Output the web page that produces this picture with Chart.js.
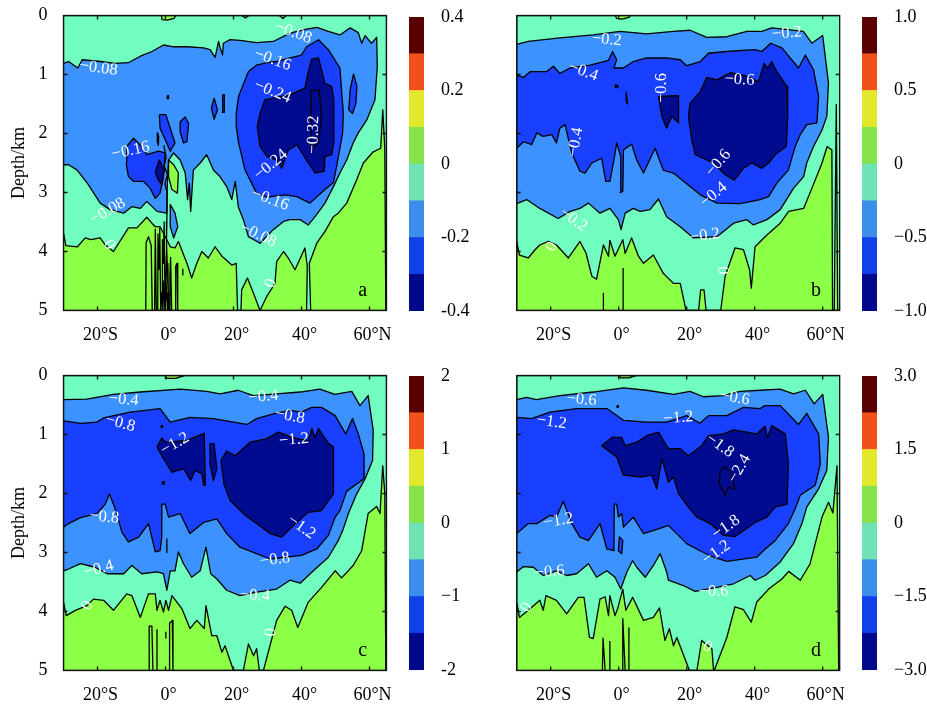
<!DOCTYPE html>
<html><head><meta charset="utf-8">
<style>
html,body{margin:0;padding:0;background:#fff;width:927px;height:704px;overflow:hidden}
canvas{position:absolute;filter:blur(0.35px)}
</style>
<script src="https://cdn.jsdelivr.net/npm/chart.js@4/dist/chart.umd.min.js"></script>
</head><body>
<script>
const lonTicks=[-20,0,20,40,60];
const lonLabels=['20°S','0°','20°','40°','60°N'];
const depthTicks=[0,1,2,3,4,5];
const cbEdgesA=[-0.4,-0.3,-0.2,-0.1,0,0.1,0.2,0.3,0.4];
const cbTicksA=[-0.4,-0.2,0,0.2,0.4];
const cbLabelsA=['-0.4','-0.2','0','0.2','0.4'];
const cbEdgesB=[-1,-0.75,-0.5,-0.25,0,0.25,0.5,0.75,1];
const cbTicksB=[-1,-0.5,0,0.5,1];
const cbLabelsB=['−1.0','−0.5','0','0.5','1.0'];
const cbEdgesC=[-2,-1.5,-1,-0.5,0,0.5,1,1.5,2];
const cbTicksC=[-2,-1,0,1,2];
const cbLabelsC=['-2','−1','0','1','2'];
const cbEdgesD=[-3,-2.25,-1.5,-0.75,0,0.75,1.5,2.25,3];
const cbTicksD=[-3,-1.5,0,1.5,3];
const cbLabelsD=['−3.0','−1.5','0','1.5','3.0'];
const cbColors=['#00088c','#1040e8','#3d8deb','#6fe3b5','#86e24a','#e4e82c','#f0501a','#5a0000'];
const TEAL='#70fdbf',GREEN='#8cff47',LIGHT='#3c92ff',BLUE='#1a40ff',NAVY='#000b8f';
const wholeDomain=[-30,0,65,0,65,5,-30,5];

// Panel a
const aLight=[-30,.81,-28.5,.78,-25.8,.89,-24.5,.75,-19.1,.78,-14.8,.81,-10.9,.8,-7.4,.69,-4,.61,-.6,.5,2.4,.53,6.3,.53,11.2,.55,13.1,.58,14.6,.71,15.6,.44,16.1,.55,16.8,.67,17,.47,19,.41,21.9,.42,26.8,.46,31.7,.44,36.6,.3,41.5,.23,44.5,.2,47.9,.27,51.3,.33,54.3,.21,56.7,.29,57.7,.47,58.7,.34,60.6,.47,62.1,.37,62.3,.86,61.6,1.43,59.2,1.77,56.7,1.99,55.2,2.16,53.3,2.45,51.3,2.67,49.4,2.9,46.9,3.18,44,3.41,42,3.55,39.6,3.46,36.6,3.46,34.7,3.49,31.7,3.63,27.8,3.86,24.4,3.75,22.9,3.46,21.4,3.24,20.5,2.81,19.5,3.12,18,2.9,16,2.73,14.1,2.62,12.1,2.36,10.2,2.5,8.2,2.62,7.4,3.32,7,2.84,6.5,3.12,5.8,2.67,4.3,2.45,2.4,2.33,.9,2.45,.5,2.9,.4,3.35,-2.5,3.32,-5.5,3.15,-7.4,3.27,-9.9,3.24,-12.3,3.35,-16.3,3.29,-19.2,3.18,-23,2.84,-26,2.62,-28.5,2.53,-30,2.53];
const aLight2=[1.4,3.2,2.8,3.35,3.6,3.58,2.4,3.77,1.4,3.58];
const aBlue1=[20.8,1.66,21.5,1.37,24.4,.95,26.8,.84,29.8,.8,32.7,.78,36.6,.72,40,.67,41.5,.53,45,.41,47.9,.58,51.3,.89,52.3,1.66,52.1,1.99,50.3,2.56,49.4,2.83,46.9,2.95,42.5,3.18,38.6,3.07,35.2,3.04,29.8,3.08,26.8,3.01,23.4,2.62,21.5,2.16,20.8,1.88];
const aBlue2=[-11.6,2.5,-11.4,2.22,-9.4,2.08,-7,2.22,-5.5,2.36,-2,2.3,-.1,2.33,-.6,2.73,-1.6,3.01,-3,3.1,-4.5,2.93,-6.5,2.81,-9.4,2.81,-10.9,2.73];
const aBlue3=[-1.8,1.68,.1,1.68,1.4,1.91,2.8,2.16,1.4,2.3,-.1,2.1,-1.6,1.91];
const aBlue4=[4.3,1.8,5.8,1.72,6.8,1.83,6.3,2.14,5.3,2.16,4.3,1.97];
const aBlue5=[14.3,1.4,15.3,1.6,14.3,1.76,13.5,1.57];
const aBlue6=[16.8,1.34,17.3,1.34,17.3,1.64,16.7,1.64];
const aBlue7=[55.3,.99,56.3,1.2,56,1.49,55,1.66,53.9,1.6,54.3,1.26];
const aDot1=[.5,1.36,.9,1.36,.9,1.41,.5,1.41];
const aDot2=[-2.4,1.98,-2,2.05,-2.1,2.2,-2.5,2.12];
const aNavy1=[27,1.88,27.8,1.66,29.2,1.43,31.7,1.4,36.6,1.34,41,1.23,42,.95,43,.74,45,.72,46.9,1.15,48.9,1.2,49.5,1.43,49.5,2.16,48.9,2.36,46.9,2.39,46.7,2.64,44,2.67,42,2.5,39.6,2.28,38.6,2.19,36.1,2.28,34.2,2.59,32.7,2.45,29.8,2.39,27.8,2.22];
const aNavy2=[-3,2.64,-1.8,2.45,-.4,2.62,-1.1,2.87,-2.4,2.76];
const aInner=[42.7,1.27,45.2,1.27,45.9,1.66,45,2.16,43,2.25,42.9,1.66];
const aGreen=[-30,3.69,-29.3,3.9,-25.9,3.92,-23.6,3.77,-22,3.8,-19.2,3.77,-17.7,3.89,-15.3,4,-10.9,3.6,-8.4,3.6,-5.5,3.42,-4,3.52,-3,3.58,-1.6,3.58,.4,3.8,1.4,3.92,2.8,3.94,3.8,3.83,6.3,4.2,7.7,4.45,9.2,4.2,10.7,4,12.6,4.11,14.6,3.92,16.6,4.08,19.5,4.23,20.8,4.2,21.2,5,22.2,5,22.4,4.65,24.1,4.45,25.9,4.71,27.8,5,29.8,4.76,32.2,4.54,32.7,4.17,34.7,4,36.1,4.11,38.1,4.31,41,3.94,41.7,4.25,41.5,5,42.7,5,42.3,4.2,44.5,3.86,46.9,3.66,49.4,3.41,50.8,3.35,53.3,3.18,56.2,2.79,58.2,2.5,61.1,2.31,63.3,2.25,63.9,1.6,64.5,2.25,64.8,5,65,5,-30,5];
const aGreen2=[.9,2.45,2.4,2.53,3.8,2.67,3.5,3.01,1.9,2.95,.9,2.73];
const aGreen3=[-1.2,0,-1,.07,.5,.08,2.5,.05,3,0];
const aLine1=[-5.8,5,-5.7,3.85,-5,3.75,-4.2,3.9,-3.9,5];
const aLine2=[-3.2,5,-3,3.62,-2.7,5,-2.3,5,-2.2,3.7,-1.9,4.3,-1.7,3.6,-1.4,5,-1,5,-.9,3.8,-.6,4.2,-.4,3.5,-.1,5,.1,5,.3,4,.5,4.4,.7,4.2,.9,5,1.2,5,1.3,4.4,1.5,4.1,1.8,5];
const aLine3=[2.8,5,3,4.25,3.4,4.2,3.6,5];
const aLine4=[-.5,2.2,.2,2.4,-.4,2.55,.6,2.7,-.2,2.85,.5,3,.4,3.5,.3,3.8,.5,4.5,.1,4.8];
const aLine5=[-1.5,5,-1.2,4.7,-.8,5,-.5,4.5,-.2,5,.3,4.6,.6,5,.8,4.7,1,5];
const aLine6=[5.1,4.3,5.1,4.4];
const aLine7=[22.5,0,23.5,.04,24.5,0];
const aLine8=[33.5,0,34.5,.05,35.5,0];
const aLabels=[['−0.08',37.6,.29,20],['−0.16',31.5,.75,20],['−0.24',31.5,1.29,22],['−0.32',43.5,2.02,-88],['−0.24',31,2.53,-40],['−0.16',30.8,3.12,20],['−0.08',27.3,3.72,25],['0',31,4.54,-70],['−0.08',-19.7,.89,8],['−0.16',-10.2,2.29,-12],['−0.08',-17,3.32,-30],['0',-16.6,3.89,60]];

// Panel b
const bLight=[-30,.49,-26.6,.44,-17.3,.38,-7.5,.33,.4,.27,8.2,.31,16.1,.27,21,.25,25.9,.37,31.8,.36,37.7,.27,42.1,.27,45,.21,54.3,.27,56.8,.47,60,.34,61.7,1.15,61.2,1.71,59.8,1.94,57.3,2.22,55.3,2.5,54.4,2.73,51.4,2.93,47.5,3.29,43.6,3.46,39.6,3.55,37.7,3.46,33.8,3.52,28.9,3.75,22,3.77,18.1,3.58,14.1,3.41,11.7,3.11,9.2,3.29,6.3,3.32,4.3,3.27,1.9,3.35,.7,3.63,-.1,3.46,-2.6,3.27,-5.5,3.35,-8.9,3.18,-11.4,3.27,-14.3,3.32,-17.8,3.44,-23.2,3.27,-27.1,3.12,-30,3.19];
const bBlue=[-30,1.01,-28,1.05,-26,.95,-21.2,.95,-19.2,.86,-17.3,.98,-14.3,.89,-8.4,.84,-3,.76,-1.8,.61,-.6,.75,-1.4,.89,1.4,.89,4.3,.78,8.2,.72,14.1,.72,18.1,.75,20,.85,24,.78,26.4,.64,31.7,.61,40,.58,42.1,.61,44.7,.47,48,.55,52.9,.89,54.9,.67,57.3,.92,58.8,1.37,58.3,1.82,55.3,1.85,53.4,2.02,51.9,2.22,49.9,2.62,46.5,2.84,44.1,3.07,41.6,3.12,35.7,3.19,28.9,3.18,24,3.04,21,2.9,16.1,2.67,13.1,2.62,10.7,2.25,7.3,2.67,5.3,2.45,3.8,2.18,1.4,2.28,1.2,2.98,.4,3,.6,2.39,-.6,2.16,-1.4,2.45,-2.6,2.81,-3.8,2.81,-5,2.42,-7.9,2.5,-9.9,2.67,-11.4,2.64,-13.8,2.33,-15.8,1.85,-17.3,1.91,-18.3,2.16,-19.7,2.02,-22.2,2.05,-24.1,1.99,-25.6,2.19,-28,2.14,-30,2.25];
const bNavy1=[20.5,1.71,21,1.49,24,1.29,25.9,1.05,28.9,1.09,32.8,.97,36.7,1.01,41.1,1.12,42.8,.81,43.8,.89,45,.78,46.5,.95,49.5,1.2,49.7,1.71,49.3,2.22,46,2.36,44.1,2.5,42.1,2.59,39.2,2.5,36.7,2.59,34,2.79,31.3,2.7,27.9,2.5,22.5,2.36,21.5,2.11];
const bNavy2=[11.7,1.37,17.6,1.36,17.6,1.82,15.6,1.71,14.1,1.91,12.7,1.71];
const bNavy3=[-1.1,1.18,-.3,1.18,-.2,1.22,-1,1.22];
const bNavy4=[2.2,1.29,2.6,1.5,2.2,1.46];
const bGreen=[-30,3.83,-29.2,4.06,-26.6,4.11,-24.6,3.97,-23.2,3.89,-20.7,3.83,-18.3,3.89,-14.8,4.11,-11.4,3.83,-9.6,4.03,-7.9,4.42,-6.5,4.47,-4.5,3.89,-3,4.08,-2.6,3.81,-1.1,4.08,1.2,3.8,1.9,4.03,3.8,3.77,5.8,4.08,7.3,4.2,10.2,4.06,13.1,4.37,16.1,4.54,18.1,4.54,19.8,5,23.5,5,24.1,4.65,25.1,4.65,25.7,5,30,5,31.3,4.42,34.2,3.94,36.7,3.97,38.5,4.31,39,4.62,40.1,3.92,43.6,3.72,47.5,3.52,50,3.32,54.4,3.27,56.8,2.93,59.8,2.5,61.3,2.22,62.7,2.28,62.9,5,63.4,5,64,1.51,64.4,5,65,5,-30,5];
const bGreen2=[-1,0,-.6,.05,1,.06,3,.03,3.5,0];
const bLine1=[-4.5,5,-4.5,4.7];
const bLine2=[1.3,5,1.3,4.28];
const bLabels=[['−0.2',-3.5,.41,5],['−0.2',49.5,.3,-5],['−0.4',-10.4,.95,20],['−0.6',12.7,1.23,-90],['−0.6',35.5,1.09,3],['−0.4',-12.7,2.15,-80],['−0.6',29.3,2.5,-50],['−0.4',27.9,3.04,-40],['−0.2',-13.3,3.46,35],['−0.2',25.4,3.73,-8],['0',-19.7,3.92,-60],['0',31.1,4.32,-90]];

// Panel c
const cLight=[-30,.41,-23.2,.4,-15.3,.32,-7.4,.28,4.3,.23,12.1,.27,16.1,.31,21.4,.25,25.8,.34,32.7,.31,39.6,.28,45.4,.23,49.8,.32,54.8,.27,57.2,.51,59.6,.34,61.1,.93,60.9,1.44,58.7,1.75,56.2,2.01,53.8,2.34,52.3,2.6,50.8,2.8,47.9,3.08,43.5,3.31,39.6,3.52,36.6,3.47,32.7,3.62,26.8,3.67,21.9,3.73,18,3.64,15.1,3.45,13.3,3.36,11.9,2.91,10.2,3.31,7.7,3.42,5.3,3.19,3.8,2.99,2.8,3.31,1.4,3.31,.4,3.64,-.6,3.36,-2.5,3.33,-7,3.36,-9.9,3.22,-12.3,3.36,-17.2,3.36,-20.7,3.25,-25,3.19,-28.5,3.28,-30,3.31];
const cBlue=[-30,.77,-25,.81,-20.2,.79,-18.2,.72,-10.4,.62,-1.6,.56,1.4,.79,7.2,.71,14.1,.73,20,.79,23.9,.83,26.8,.73,31.7,.65,36.6,.59,40,.62,43,.54,45.9,.54,49.9,.68,53,.99,55,.73,56.7,.99,58.4,1.33,58.4,1.75,53.3,1.96,51.3,2.29,49.9,2.4,47.9,2.71,44.5,2.94,40,3.05,30.8,3.11,26.8,3.02,21.9,2.91,18,2.68,15.1,2.43,11.2,2.49,7.2,2.68,4.3,2.34,.9,2.4,-.1,2.18,-1.1,2.18,-1.1,2.74,-1.6,2.97,-3,2.99,-5,2.51,-7.9,2.74,-10.9,2.82,-12.8,2.66,-14.8,2.26,-16.5,2.01,-17.7,2.18,-20.2,2.34,-25,2.41,-28.5,2.51,-30,2.57];
const cNavy1=[16.3,1.44,18,1.28,20.5,1.36,24.9,1.13,29.8,1.07,33.2,.96,38.6,1.07,42,1.1,43,.9,44,1.05,45,.9,47.9,1.15,49.4,1.21,49.4,2.01,47.9,2.12,45.9,2.29,42,2.32,38.6,2.49,34.2,2.74,30.8,2.68,26.8,2.51,23.4,2.37,19,2.12,17.2,1.84];
const cNavy2=[-2.5,1.21,-1.1,1.06,.1,1.13,6.3,1.1,11.4,.98,11.7,1.86,11.2,1.86,10.7,1.67,8.7,1.61,7.4,1.78,5.3,1.58,1.9,1.64,-.6,1.41];
const cNavy3=[13.1,1.15,14.3,1.16,15.1,1.58,14.1,1.78,13.1,1.5];
const cDot1=[-.9,1.8,-.4,1.8,-.4,1.84,-.9,1.84];
const cDot2=[-1.3,.85,-.9,.85,-.9,.88,-1.3,.88];
const cGreen=[-30,3.84,-29.2,4.07,-26.5,3.98,-23.1,3.9,-21.2,3.79,-18.2,3.81,-15.3,3.98,-11.4,3.7,-9.9,3.73,-7.4,4.1,-5,3.7,-3,3.7,-2.5,3.98,-1.6,3.81,-.6,4.01,.1,3.81,.9,3.98,1.9,3.73,4.8,3.95,7.2,4.29,9.2,4.15,11.4,4.29,11.9,3.9,13.6,4.41,15.1,4.41,16.6,4.69,17.5,4.58,20,5,22.9,5,24.4,4.55,25.9,4.75,26.8,4.63,27.6,5,28.8,5,32.7,4.15,35.2,3.91,37.1,3.98,38.9,4.27,42,3.84,45.9,3.59,49.9,3.31,51.8,3.43,55.2,3.22,57.7,2.97,59.6,2.34,62.1,2.22,63.1,2.34,63.9,1.53,64.5,2,64.8,5,65,5,-30,5];
const cGreen2=[-.1,0,.3,.05,3,.05,5.8,0];
const cLine1=[-4.8,5,-4.8,4.25,-4,4.25,-3.7,5];
const cLine2=[-2.5,5,-2.5,4.3];
const cLine3=[.1,4.35,.1,4.45];
const cLine4=[1.2,5,1.2,4.2,2,4.15,2.2,5];
const cLine5=[.4,2.77,.4,3];
const cLabels=[['−0.4',-12.3,.41,5],['−0.4',28.8,.36,-5],['−0.8',-13.3,.81,15],['−0.8',36.6,.69,10],['−1.2',2.8,1.16,-30],['−1.2',37.8,1.09,-5],['−0.8',-18,2.4,5],['−1.2',40,2.57,35],['−0.8',32.2,3.12,-8],['−0.4',-19.6,3.28,-15],['−0.4',26.3,3.73,3],['0',-23,3.9,-60],['0',31,4.35,-85]];

// Panel d
const dLight=[-30,.41,-27.1,.37,-24.2,.41,-17.3,.34,-7.5,.28,1.4,.21,8.2,.25,16.1,.32,21,.27,24.9,.36,30.8,.34,35.7,.27,41.6,.25,47.5,.23,51.4,.31,54.9,.25,57.5,.48,60,.32,61.7,1.05,61.2,1.61,58.8,1.92,55.3,2.23,53.9,2.51,51.4,2.85,47.5,3.16,43.1,3.39,40.1,3.47,38.7,3.39,33.8,3.53,28.9,3.59,22.5,3.66,19,3.56,14.6,3.47,14.1,3.33,12.2,3.02,10.2,3.22,7.8,3.42,5.3,3.25,4.1,3.14,2.4,3.33,.6,3.62,-1.1,3.42,-3.5,3.31,-6.5,3.42,-8.9,3.19,-12.4,3.36,-15.3,3.39,-18.3,3.31,-22.2,3.39,-25.1,3.25,-28.1,3.24,-30,3.33];
const dBlue=[-30,.71,-25.6,.73,-20.2,.62,-12.4,.56,-3.5,.56,1.4,.76,8.2,.79,14.1,.79,20,.68,23.9,.81,26.4,.68,31.8,.68,36.7,.54,41.6,.56,43,.51,47.5,.51,52.9,.83,55.3,.64,58.8,.99,59.3,1.5,57.8,1.86,53.4,2.03,51.9,2.26,49.9,2.51,46,2.8,43.1,2.94,40.6,3.08,31.8,3.15,27.9,3.08,23.9,2.97,20,2.85,14.6,2.54,11.7,2.6,7.3,2.68,4.3,2.4,1.4,2.57,.9,2.34,-.1,2.4,-.6,2.18,-1.3,2.18,-1.4,2.97,-3.5,2.94,-5.5,2.51,-8.9,2.8,-11.4,2.74,-13.8,2.51,-16.3,2.13,-18.3,2.4,-20.2,2.37,-24.1,2.51,-26.6,2.51,-30,2.68];
const dBlue2=[.2,2.73,1.2,2.8,.9,3.02,-.1,2.97];
const dDot=[-.5,.51,-.1,.51,-.1,.54,-.5,.54];
const dNavy=[-5,1.19,-2,1.05,.9,1.05,1.9,1.19,5.3,1.13,8.2,1.02,11.7,.96,14.6,1.24,18.1,1.24,20.5,1.36,24.4,1.19,26.4,1.02,30.8,.99,33.8,.92,40.6,.99,43,.86,43.8,1.05,45,.85,49,.99,49.9,1.5,49.5,2.18,46,2.23,43.6,2.4,40.1,2.49,34.3,2.73,30.8,2.71,26.9,2.51,23,2.4,20.5,2.23,17.6,2,16.1,1.72,14.6,1.81,12.7,1.41,11.2,1.92,9.7,1.69,6.8,1.72,1.4,1.69,-.6,1.38];
const dInner=[29.8,1.64,30.8,1.55,32.8,1.61,34.2,1.92,32.3,1.89,31.3,2.03,29.6,1.84];
const dGreen=[-30,3.84,-29.2,4.1,-26.6,3.98,-23.2,3.81,-22.2,3.98,-21.4,3.73,-18.3,3.81,-15.3,4.04,-11.9,3.76,-10.2,3.76,-8.6,4.44,-7.5,4.46,-5.5,3.79,-4,3.75,-3,4.07,-2.6,3.73,-1.1,4.07,-.3,3.95,1.2,3.62,2.1,3.98,4.1,3.76,7.3,4.15,10.2,4.1,12,3.94,13.6,4.49,14.9,4.29,16.1,4.58,17.1,4.44,20.8,5,23,5,24.4,4.49,27.4,4.63,27.9,5,28.1,5,31.8,4.44,34.2,3.92,36.7,3.97,39,4.18,40.6,3.84,44.1,3.62,48,3.45,50,3.32,53.4,3.47,56.3,3.19,59.8,2.4,61.7,2.15,63,2.33,64.2,1.53,64.7,5,65,5,-30,5];
const dGreen2=[0,0,.5,.04,3,.04,5.3,0];
const dLine1=[-4.8,5,-4.6,4.45,-4,5];
const dLine2=[-2.6,5,-2.6,4.5];
const dLine3=[1.2,5,1.2,4.12,1.9,5];
const dLine4=[3,5,3,4.27];
const dLabels=[['−0.6',-10.9,.41,5],['−0.6',34.2,.38,10],['−1.2',-19.7,.79,8],['−1.2',17.6,.72,-5],['−1.8',29.8,1.19,35],['−2.4',35.5,1.58,-60],['−1.8',31.6,2.57,-35],['−1.2',28.7,3,-35],['−1.2',-17.7,2.46,-10],['−0.6',-20.3,3.33,-5],['−0.6',27.9,3.67,0],['0',-27.1,3.93,-60],['0',26.1,4.6,30]];

const serif='"Liberation Serif","Times New Roman",serif';
function pts(f,close){const o=[];for(let i=0;i<f.length;i+=2)o.push({x:f[i],y:f[i+1]});if(close)o.push(o[0]);return o;}
function poly(f,color){return {data:pts(f,true),showLine:true,fill:'shape',backgroundColor:color,borderColor:'#000',borderWidth:1.3,pointRadius:0,tension:0,borderJoinStyle:'round'};}
function line(f){return {data:pts(f,false),showLine:true,fill:false,borderColor:'#000',borderWidth:1.3,pointRadius:0,tension:0,borderJoinStyle:'round'};}

const contourPlugin={id:'contourDecor',
 afterDatasetsDraw(ch,a,o){
  const c=ch.ctx,xs=ch.scales.x,ys=ch.scales.y;
  c.save();c.fillStyle='#fff';c.textAlign='center';c.textBaseline='middle';c.font='16.5px '+serif;
  for(const [t,lon,d,ang] of o.labels){
   c.save();c.translate(xs.getPixelForValue(lon),ys.getPixelForValue(d));c.rotate(ang*Math.PI/180);c.fillText(t,0,0);c.restore();
  }
  c.restore();
 },
 afterDraw(ch,a,o){
  const c=ch.ctx,{left,right,top,bottom}=ch.chartArea,xs=ch.scales.x,ys=ch.scales.y;
  c.save();c.strokeStyle='#111';c.lineWidth=1.3;
  c.strokeRect(left,top,right-left,bottom-top);
  c.beginPath();
  for(const v of lonTicks){const p=xs.getPixelForValue(v);c.moveTo(p,top);c.lineTo(p,top+4);c.moveTo(p,bottom);c.lineTo(p,bottom-4);}
  for(const v of depthTicks.slice(1,5)){const p=ys.getPixelForValue(v);c.moveTo(left,p);c.lineTo(left+4,p);c.moveTo(right,p);c.lineTo(right-4,p);}
  c.stroke();
  c.fillStyle='#000';c.font='20px '+serif;c.textAlign='center';c.textBaseline='middle';
  c.fillText(o.letter,xs.getPixelForValue(58),ys.getPixelForValue(4.66));
  c.restore();
 }};

function place(el,l,t,w,h){el.width=w;el.height=h;el.style.left=l+'px';el.style.top=t+'px';el.style.width=w+'px';el.style.height=h+'px';}
function fixScale(s,prop,val){s[prop]=val;s.paddingTop=s.paddingBottom=s.paddingLeft=s.paddingRight=0;}

function panel(spec){
 const cv=document.createElement('canvas');document.body.appendChild(cv);
 const W=405,H=350;place(cv,spec.ox,spec.oy,W,H);
 const ds=spec.layers.slice().reverse();
 new Chart(cv,{type:'scatter',data:{datasets:ds},plugins:[contourPlugin],options:{
  responsive:false,animation:false,devicePixelRatio:1,
  layout:{padding:{top:spec.top-spec.oy,right:W-(spec.left+323-spec.ox),left:0,bottom:0}},
  plugins:{legend:{display:false},tooltip:{enabled:false},contourDecor:{labels:spec.labels,letter:spec.letter}},
  scales:{
   x:{type:'linear',min:-30,max:65,grid:{display:false},border:{display:false},
    afterBuildTicks:a=>{a.ticks=lonTicks.map(v=>({value:v}));},
    afterFit:s=>fixScale(s,'height',H-(spec.top-spec.oy)-295),
    ticks:{autoSkip:false,maxRotation:0,padding:6,labelOffset:3,color:'#000',font:{family:serif,size:18},callback:(v,i)=>lonLabels[i]}},
   y:{type:'linear',reverse:true,min:0,max:5,grid:{display:false},border:{display:false},
    afterBuildTicks:a=>{a.ticks=depthTicks.map(v=>({value:v}));},
    afterFit:s=>fixScale(s,'width',spec.left-spec.ox),
    title:{display:spec.title,text:'Depth/km',color:'#000',font:{family:serif,size:18},padding:{top:8,bottom:0}},
    ticks:{display:spec.title,padding:8,color:'#000',font:{family:serif,size:18},callback:(v,i)=>depthTicks[i]}}
  }}});
}
function colorbar(spec){
 const cv=document.createElement('canvas');document.body.appendChild(cv);
 const W=80,pad=14,H=spec.h+2*pad;place(cv,spec.x,spec.top-pad,W,H);
 const datasets=cbColors.map((col,i)=>({data:[[spec.edges[i],spec.edges[i+1]]],backgroundColor:col,grouped:false,barPercentage:1,categoryPercentage:1,borderWidth:0}));
 const mn=spec.edges[0],mx=spec.edges[8];
 new Chart(cv,{type:'bar',data:{labels:[''],datasets},options:{
  responsive:false,animation:false,devicePixelRatio:1,
  layout:{padding:{top:pad,bottom:pad,left:0,right:0}},
  plugins:{legend:{display:false},tooltip:{enabled:false}},
  scales:{
   x:{display:false},
   y:{position:'right',min:mn,max:mx,grid:{display:false},border:{display:false},
    afterBuildTicks:a=>{a.ticks=spec.ticks.map(v=>({value:v}));},
    afterFit:s=>fixScale(s,'width',W-15),
    ticks:{autoSkip:false,padding:9,color:'#000',font:{family:serif,size:18},callback:(v,i)=>spec.labels[i]}}
  }}});
}

panel({ox:0,oy:0,left:63.5,top:15.5,title:true,letter:'a',labels:aLabels,layers:[
 poly(wholeDomain,TEAL),poly(aLight,LIGHT),poly(aLight2,LIGHT),
 poly(aBlue1,BLUE),poly(aBlue2,BLUE),poly(aBlue3,BLUE),poly(aBlue4,BLUE),poly(aBlue5,BLUE),poly(aBlue6,BLUE),poly(aBlue7,BLUE),poly(aDot1,BLUE),poly(aDot2,BLUE),
 poly(aNavy1,NAVY),poly(aNavy2,NAVY),poly(aInner,NAVY),
 poly(aGreen,GREEN),poly(aGreen2,GREEN),poly(aGreen3,GREEN),
 line(aLine1),line(aLine2),line(aLine3),line(aLine4),line(aLine5),line(aLine6),line(aLine7),line(aLine8)]});
panel({ox:460,oy:0,left:516.7,top:15.5,title:false,letter:'b',labels:bLabels,layers:[
 poly(wholeDomain,TEAL),poly(bLight,LIGHT),poly(bBlue,BLUE),
 poly(bNavy1,NAVY),poly(bNavy2,NAVY),poly(bNavy3,NAVY),poly(bNavy4,NAVY),
 poly(bGreen,GREEN),poly(bGreen2,GREEN),line(bLine1),line(bLine2)]});
panel({ox:0,oy:354,left:63.5,top:375.5,title:true,letter:'c',labels:cLabels,layers:[
 poly(wholeDomain,TEAL),poly(cLight,LIGHT),poly(cBlue,BLUE),
 poly(cNavy1,NAVY),poly(cNavy2,NAVY),poly(cNavy3,NAVY),poly(cDot1,NAVY),poly(cDot2,NAVY),
 poly(cGreen,GREEN),poly(cGreen2,GREEN),line(cLine1),line(cLine2),line(cLine3),line(cLine4),line(cLine5)]});
panel({ox:460,oy:354,left:516.7,top:375.5,title:false,letter:'d',labels:dLabels,layers:[
 poly(wholeDomain,TEAL),poly(dLight,LIGHT),poly(dBlue,BLUE),poly(dBlue2,BLUE),poly(dDot,NAVY),
 poly(dNavy,NAVY),poly(dInner,NAVY),
 poly(dGreen,GREEN),poly(dGreen2,GREEN),line(dLine1),line(dLine2),line(dLine3),line(dLine4)]});
colorbar({x:409,top:16.5,h:294.5,edges:cbEdgesA,ticks:cbTicksA,labels:cbLabelsA});
colorbar({x:862,top:16.5,h:294.5,edges:cbEdgesB,ticks:cbTicksB,labels:cbLabelsB});
colorbar({x:409,top:375.5,h:294.5,edges:cbEdgesC,ticks:cbTicksC,labels:cbLabelsC});
colorbar({x:862,top:375.5,h:294.5,edges:cbEdgesD,ticks:cbTicksD,labels:cbLabelsD});
</script>
</body></html>
